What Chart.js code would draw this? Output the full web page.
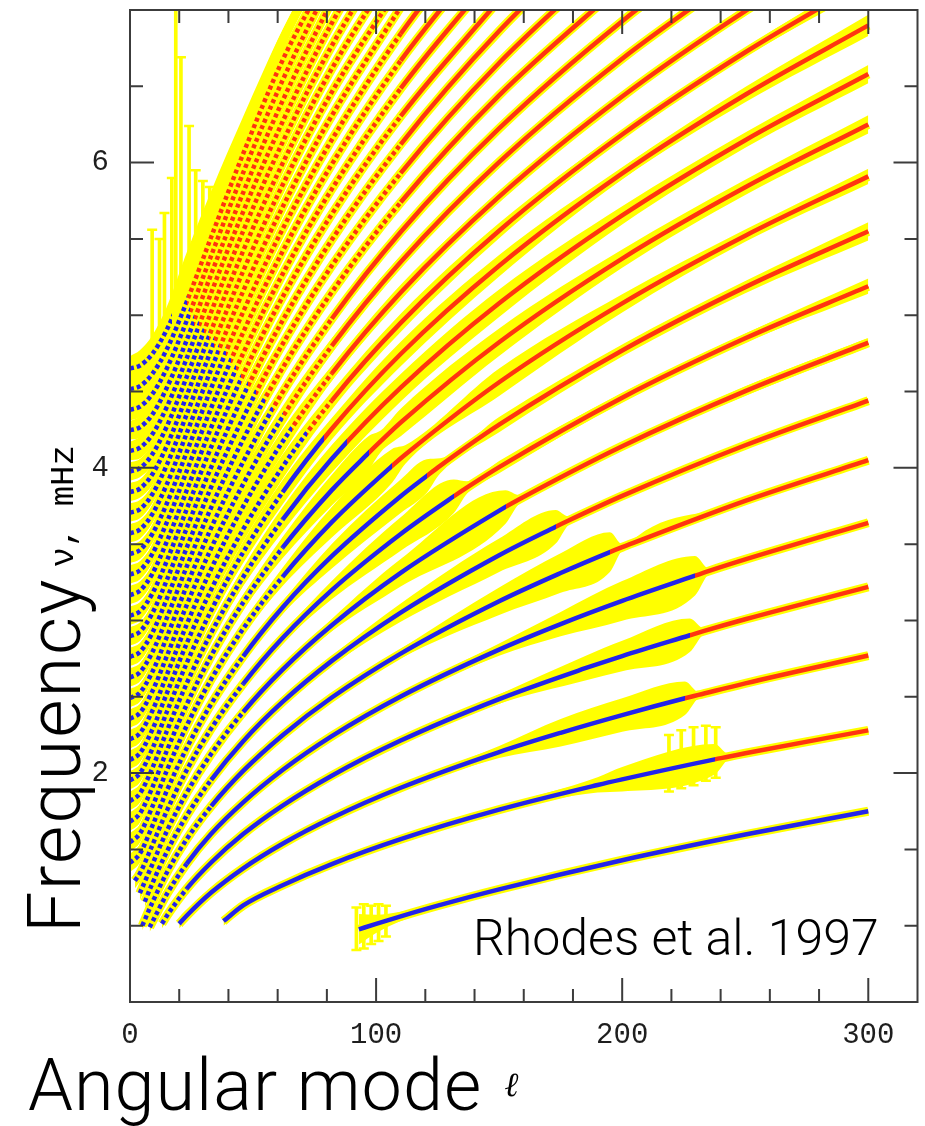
<!DOCTYPE html>
<html>
<head>
<meta charset="utf-8">
<title>l-nu diagram</title>
<script src="https://cdn.jsdelivr.net/npm/chart.js@4.4.1/dist/chart.umd.min.js"></script>
<style>
  body { margin: 0; background: #fff; }
  #wrap { position: relative; width: 925px; height: 1126px; overflow: hidden; }
  #lnu { position: absolute; left: 0; top: 0; }
  .big { font-family: Roboto, 'Liberation Sans', sans-serif; font-weight: 300; color: #000; line-height: 1; }
  #ytitle { position: absolute; left: 18px; top: 933px; transform: rotate(-90deg); transform-origin: 0 0; white-space: nowrap; font-size: 74px; letter-spacing: 2px; }
  #ytitle .unit { font-family: 'Liberation Mono', monospace; font-weight: 400; font-size: 34px; letter-spacing: 0; margin-left: 10px; vertical-align: 7px; }
  #xtitle { position: absolute; left: 28px; top: 1050px; white-space: nowrap; font-size: 72px; letter-spacing: 1px; }
  #xtitle .ell { font-family: 'DejaVu Serif', serif; font-style: italic; font-weight: 400; font-size: 34px; margin-left: 22px; vertical-align: 14px; }
  #credit { position: absolute; left: 473px; top: 913px; white-space: nowrap; font-size: 50px; }
</style>
</head>
<body>
<div id="wrap">
  <canvas id="lnu" width="925" height="1126"></canvas>
  <div id="ytitle" class="big">Frequency<span class="unit">ν, mHz</span></div>
  <div id="xtitle" class="big">Angular mode<span class="ell">ℓ</span></div>
  <div id="credit" class="big">Rhodes et al. 1997</div>
</div>
<script>
// ridges: [degree l, frequency mHz, error mHz]
const fMode = [[93,0.976,0.10],[100,1.012,0.06],[110,1.061,0.03],[125,1.131,0.02],[150,1.238,0.02],[200,1.429,0.02],[250,1.597,0.02],[300,1.750,0.02]];
const p1 = [[38,1.030,0.03],[46,1.133,0.02],[62,1.265,0.02],[82,1.404,0.02],[110,1.567,0.02],[150,1.760,0.02],[190,1.922,0.05],[200,1.959,0.08],[237.6,2.090,0.10],[243,2.107,0.02],[250,2.130,0.02],[300,2.280,0.02]];
const p2 = [[20,1.012,0.03],[23,1.065,0.03],[33,1.217,0.02],[46,1.376,0.02],[62,1.537,0.02],[82,1.706,0.02],[110,1.904,0.02],[150,2.138,0.04],[175,2.264,0.09],[200,2.380,0.11],[225.5,2.490,0.11],[231,2.512,0.02],[250,2.588,0.02],[300,2.770,0.02]];
const p3 = [[13,1.013,0.03],[15,1.065,0.03],[23,1.241,0.02],[33,1.414,0.02],[46,1.600,0.02],[62,1.787,0.02],[82,1.983,0.02],[110,2.213,0.02],[150,2.485,0.03],[185,2.687,0.08],[200,2.767,0.10],[227.5,2.903,0.11],[233,2.930,0.02],[250,3.008,0.02],[300,3.220,0.02]];
const p4 = [[8,0.990,0.03],[9,1.022,0.03],[15,1.208,0.03],[23,1.405,0.02],[33,1.602,0.02],[46,1.808,0.02],[62,2.020,0.02],[82,2.242,0.02],[110,2.502,0.02],[150,2.809,0.04],[175,2.976,0.08],[200,3.128,0.13],[229.6,3.293,0.13],[235,3.323,0.02],[250,3.400,0.02],[300,3.640,0.02]];
const p5 = [[5,1.000,0.03],[9,1.149,0.03],[15,1.349,0.03],[23,1.566,0.02],[33,1.783,0.02],[46,2.014,0.02],[62,2.248,0.02],[82,2.495,0.02],[110,2.783,0.03],[150,3.126,0.09],[175,3.311,0.13],[195,3.448,0.13],[200,3.480,0.02],[250,3.784,0.02],[300,4.050,0.02]];
const p6 = [[6,1.157,0.04],[9,1.274,0.04],[15,1.486,0.03],[23,1.720,0.02],[33,1.956,0.02],[46,2.209,0.02],[62,2.466,0.02],[82,2.735,0.03],[110,3.051,0.06],[150,3.427,0.11],[173,3.614,0.11],[178,3.653,0.03],[200,3.816,0.02],[250,4.148,0.02],[300,4.440,0.02]];
const p7 = [[4,1.213,0.05],[9,1.399,0.04],[15,1.621,0.03],[23,1.870,0.02],[33,2.126,0.02],[46,2.400,0.02],[62,2.678,0.02],[82,2.969,0.04],[110,3.312,0.09],[152.6,3.744,0.11],[158,3.793,0.03],[200,4.142,0.02],[250,4.503,0.03],[300,4.820,0.03]];
const p8 = [[2,1.295,0.05],[4,1.342,0.05],[9,1.525,0.05],[15,1.754,0.04],[23,2.018,0.03],[33,2.292,0.02],[46,2.585,0.02],[62,2.885,0.03],[82,3.199,0.06],[110,3.567,0.11],[131.6,3.814,0.11],[137,3.872,0.04],[150,4.005,0.04],[200,4.460,0.03],[250,4.849,0.03],[300,5.190,0.05]];
const p9 = [[0,1.411,0.06],[4,1.472,0.06],[9,1.651,0.05],[15,1.886,0.04],[23,2.163,0.03],[33,2.453,0.03],[46,2.765,0.03],[62,3.085,0.04],[82,3.421,0.08],[110,3.814,0.11],[120.6,3.947,0.11],[126,4.013,0.05],[150,4.283,0.05],[200,4.769,0.04],[250,5.184,0.04],[300,5.550,0.06]];
const p10 = [[0,1.546,0.06],[4,1.603,0.06],[9,1.777,0.05],[15,2.018,0.04],[23,2.309,0.04],[33,2.615,0.04],[46,2.946,0.04],[62,3.286,0.06],[82,3.644,0.10],[106.5,4.013,0.11],[112,4.089,0.06],[150,4.561,0.09],[200,5.078,0.06],[250,5.521,0.04],[300,5.910,0.05]];
const p11 = [[0,1.681,0.06],[4,1.735,0.06],[9,1.903,0.05],[15,2.148,0.05],[23,2.448,0.05],[33,2.769,0.05],[46,3.118,0.05],[62,3.477,0.07],[82,3.854,0.10],[97,4.098,0.11],[102,4.176,0.07],[110,4.297,0.09],[150,4.823,0.09],[200,5.371,0.06],[250,5.838,0.05],[300,6.250,0.06]];
const p12 = [[0,1.816,0.06],[4,1.866,0.06],[9,2.030,0.06],[15,2.276,0.05],[23,2.586,0.05],[33,2.919,0.05],[46,3.285,0.06],[62,3.661,0.08],[82,4.059,0.09],[110,4.525,0.09],[150,5.078,0.09],[200,5.654,0.06],[250,6.147,0.05],[300,6.580,0.06]];
const p13 = [[0,1.951,0.06],[4,1.998,0.06],[9,2.156,0.06],[15,2.402,0.06],[23,2.719,0.06],[33,3.066,0.06],[46,3.447,0.07],[62,3.840,0.08],[82,4.256,0.07],[110,4.746,0.08],[150,5.324,0.07],[200,5.929,0.04],[250,6.445,0.05],[300,6.899,0.07]];
const p14 = [[0,2.086,0.06],[4,2.130,0.06],[9,2.282,0.06],[15,2.524,0.06],[23,2.848,0.07],[33,3.203,0.07],[46,3.598,0.08],[62,4.007,0.08],[82,4.441,0.06],[110,4.950,0.06],[150,5.554,0.05],[200,6.184,0.03],[250,6.723,0.03],[300,7.197,0.05]];
const p15 = [[0,2.221,0.06],[4,2.261,0.06],[9,2.405,0.06],[15,2.645,0.06],[23,2.972,0.07],[33,3.338,0.07],[46,3.747,0.08],[62,4.171,0.08],[82,4.619,0.05],[110,5.149,0.05],[150,5.777,0.03],[200,6.433,0.03],[250,6.993,0.03],[300,7.485,0.03]];
const p16 = [[0,2.356,0.06],[4,2.394,0.06],[9,2.533,0.06],[15,2.768,0.06],[23,3.099,0.07],[33,3.473,0.07],[46,3.894,0.08],[62,4.334,0.07],[82,4.799,0.05],[110,5.349,0.04],[150,6.003,0.03],[200,6.681,0.03],[250,7.263,0.03]];
const p17 = [[0,2.491,0.06],[4,2.527,0.06],[9,2.660,0.06],[15,2.893,0.06],[23,3.225,0.07],[33,3.607,0.07],[46,4.041,0.08],[62,4.495,0.05],[82,4.977,0.04],[110,5.546,0.02],[150,6.224,0.02],[200,6.927,0.02],[250,7.528,0.02]];
const p18 = [[0,2.626,0.06],[4,2.660,0.06],[9,2.789,0.06],[15,3.018,0.06],[23,3.351,0.07],[33,3.741,0.07],[46,4.187,0.08],[62,4.654,0.05],[82,5.151,0.04],[110,5.740,0.02],[150,6.441,0.02],[200,7.166,0.02]];
const p19 = [[0,2.761,0.06],[4,2.793,0.06],[9,2.916,0.06],[15,3.144,0.06],[23,3.475,0.07],[33,3.875,0.07],[46,4.329,0.08],[62,4.811,0.05],[82,5.324,0.03],[110,5.931,0.02],[150,6.653,0.02],[200,7.403,0.02]];
const p20 = [[0,2.896,0.06],[4,2.926,0.06],[9,3.045,0.06],[15,3.266,0.06],[23,3.603,0.07],[33,4.005,0.07],[46,4.472,0.07],[62,4.965,0.04],[82,5.494,0.03],[110,6.120,0.02],[150,6.862,0.02],[200,7.637,0.02]];
const p21 = [[0,3.031,0.06],[4,3.060,0.06],[9,3.174,0.06],[15,3.392,0.06],[23,3.727,0.07],[33,4.137,0.08],[46,4.612,0.05],[62,5.119,0.04],[82,5.662,0.02],[110,6.304,0.02],[150,7.065,0.02]];
const p22 = [[0,3.166,0.06],[4,3.195,0.06],[9,3.304,0.06],[15,3.519,0.06],[23,3.850,0.07],[33,4.265,0.08],[46,4.751,0.05],[62,5.269,0.03],[82,5.826,0.02],[110,6.486,0.02],[150,7.268,0.02]];
const p23 = [[0,3.301,0.06],[4,3.328,0.06],[9,3.434,0.06],[15,3.644,0.07],[23,3.977,0.07],[33,4.393,0.08],[46,4.888,0.04],[62,5.418,0.03],[82,5.989,0.02],[110,6.668,0.02],[150,7.468,0.02]];
const p24 = [[0,3.436,0.06],[4,3.461,0.06],[9,3.565,0.06],[15,3.768,0.07],[23,4.101,0.07],[33,4.522,0.08],[46,5.023,0.04],[62,5.564,0.02],[82,6.149,0.02],[110,6.844,0.02],[150,7.665,0.02]];
const p25 = [[0,3.571,0.06],[4,3.596,0.06],[9,3.695,0.06],[15,3.894,0.07],[23,4.225,0.07],[33,4.647,0.07],[46,5.158,0.03],[62,5.709,0.02],[82,6.307,0.02],[110,7.019,0.02]];
const p26 = [[0,3.706,0.06],[4,3.729,0.06],[9,3.825,0.06],[15,4.021,0.07],[23,4.349,0.07],[33,4.773,0.06],[46,5.290,0.03],[62,5.853,0.02],[82,6.462,0.02],[110,7.167,0.02]];
const p27 = [[0,3.841,0.06],[4,3.864,0.06],[9,3.956,0.07],[15,4.146,0.07],[23,4.471,0.08],[33,4.899,0.05],[46,5.422,0.03],[62,5.995,0.02],[82,6.615,0.02],[110,7.334,0.02]];
const p28 = [[0,3.976,0.06],[4,3.998,0.06],[9,4.087,0.07],[15,4.273,0.07],[23,4.594,0.08],[33,5.022,0.04],[46,5.552,0.02],[62,6.133,0.02],[82,6.766,0.02],[110,7.497,0.02]];
const p29 = [[0,4.111,0.06],[4,4.132,0.07],[9,4.218,0.07],[15,4.400,0.08],[23,4.716,0.08],[33,5.147,0.04],[46,5.679,0.02],[62,6.268,0.02],[82,6.914,0.02],[110,7.657,0.02]];
const p30 = [[0,4.246,0.06],[4,4.266,0.07],[9,4.348,0.08],[15,4.526,0.08],[23,4.835,0.08],[33,5.270,0.04],[46,5.804,0.02],[62,6.405,0.02],[82,7.060,0.02]];
const p31 = [[0,4.381,0.07],[4,4.401,0.07],[9,4.482,0.08],[15,4.653,0.09],[23,4.962,0.08],[33,5.391,0.04],[46,5.934,0.02],[62,6.539,0.02],[82,7.204,0.02]];
const p32 = [[0,4.516,0.07],[4,4.535,0.08],[9,4.614,0.10],[15,4.778,0.12],[23,5.086,0.14],[33,5.513,0.10],[46,6.059,0.06],[62,6.671,0.04],[82,7.279,0.03]];
const p33 = [[0,4.651,0.08],[4,4.670,0.10],[9,4.745,0.12],[15,4.907,0.15],[23,5.209,0.20],[33,5.634,0.18],[46,6.182,0.12],[62,6.800,0.07],[82,7.412,0.05]];

const ridges = [fMode, p1, p2, p3, p4, p5, p6, p7, p8, p9, p10, p11, p12, p13, p14, p15, p16,
  p17, p18, p19, p20, p21, p22, p23, p24, p25, p26, p27, p28, p29, p30, p31, p32, p33];

// degree where each ridge switches from blue to red points (null = all blue)
const redFromL = [null, 237.6, 225.5, 227.5, 229.6, 195, 173, 152.6, 131.6, 120.6, 106.5, 97, 88, 79, 72,
  66, 62, 58, 55, 51, 48, 45, 43, 41, 39, 36, 34, 32, 30, 28, 26, 24.5, 23, 17];
// ridges whose points above redFromL are lost under the error bars
const buriedRidges = [33];

// isolated long error bars
const barL  = [9, 12, 14, 17, 18.6, 20.7, 24, 26.7, 29.6, 32.4, 37.3, 92, 95, 98, 101, 104, 219, 224, 229, 234, 238];
const barLo = [4.75, 4.80, 4.90, 4.95, 4.95, 5.00, 5.10, 5.20, 5.30, 5.40, 5.60, 0.84, 0.85, 0.88, 0.90, 0.93, 1.88, 1.90, 1.92, 1.95, 1.97];
const barHi = [5.56, 5.50, 5.67, 5.90, 7.20, 6.69, 6.24, 5.95, 5.88, 5.84, 5.80, 1.12, 1.14, 1.13, 1.14, 1.13, 2.25, 2.28, 2.30, 2.31, 2.30];

const BLUE = '#2424ea';
const RED = '#ff3410';
const YELLOW = '#ffff00';
const CLEAR = 'rgba(0,0,0,0)';

function splitColour(chart, lRed, tail) {
  const area = chart.chartArea;
  if (lRed == null || !area) return BLUE;
  const t = (chart.scales.x.getPixelForValue(lRed) - area.left) / (area.right - area.left);
  const s = Math.min(Math.max(t, 0), 1);
  const g = chart.ctx.createLinearGradient(area.left, 0, area.right, 0);
  g.addColorStop(0, BLUE);
  g.addColorStop(s, BLUE);
  g.addColorStop(s, tail);
  g.addColorStop(1, tail);
  return g;
}

// steep bits of a ridge show up as separate dots
function dotted(ctx) {
  const dx = ctx.p1.x - ctx.p0.x;
  const dy = Math.abs(ctx.p1.y - ctx.p0.y);
  return (ctx.p1.parsed.x <= 15 || dy > 1.3 * dx) ? [4, 3] : undefined;
}

const lineBase = { pointRadius: 0, cubicInterpolationMode: 'monotone', clip: 1 };
const datasets = [];

ridges.forEach((pts, i) => {
  const centre = pts.map(([l, nu]) => ({ x: l, y: nu }));
  // error band: upper edge, then lower edge filled up to it
  datasets.push({ ...lineBase, data: pts.map(([l, nu, e]) => ({ x: l, y: nu + e })),
    borderWidth: 0, borderColor: CLEAR, fill: false, order: 4 });
  datasets.push({ ...lineBase, data: pts.map(([l, nu, e]) => ({ x: l, y: nu - e })),
    borderWidth: 0, borderColor: CLEAR, backgroundColor: YELLOW, fill: '-1', order: 4 });
  // yellow halo under every point
  datasets.push({ ...lineBase, data: centre, borderColor: YELLOW, borderWidth: 9, fill: false, order: 2 });
  const tail = buriedRidges.includes(i) ? CLEAR : RED;
  datasets.push({ ...lineBase, data: centre, fill: false, order: 1, borderWidth: 4.5,
    borderColor: c => splitColour(c.chart, redFromL[i], tail),
    segment: { borderDash: dotted } });
});

datasets.push({
  type: 'bar', order: 3, grouped: false, barThickness: 3, backgroundColor: YELLOW, borderWidth: 0, clip: 1,
  data: barL.map((l, k) => ({ x: l, y: [barLo[k], barHi[k]] }))
});
datasets.push({
  type: 'line', order: 3, showLine: false, pointStyle: 'line', pointRadius: 5, clip: 1,
  pointBorderColor: YELLOW, pointBorderWidth: 2.5,
  data: barL.flatMap((l, k) => [{ x: l, y: barLo[k] }, { x: l, y: barHi[k] }])
});

// tick marks point into the plot, on all four sides
const innerTicks = {
  id: 'innerTicks',
  afterDraw(chart) {
    const { ctx, chartArea: a, scales: { x, y } } = chart;
    ctx.save();
    ctx.strokeStyle = '#3c3c3c';
    ctx.lineWidth = 2;
    ctx.beginPath();
    x.ticks.forEach(t => {
      if (t.value <= x.min || t.value >= x.max) return;
      const px = x.getPixelForValue(t.value);
      const len = t.value % 100 === 0 ? 24 : 13;
      ctx.moveTo(px, a.bottom); ctx.lineTo(px, a.bottom - len);
      ctx.moveTo(px, a.top); ctx.lineTo(px, a.top + len);
    });
    y.ticks.forEach(t => {
      if (t.value <= y.min || t.value >= y.max) return;
      const py = y.getPixelForValue(t.value);
      const len = (Number.isInteger(t.value) && t.value % 2 === 0) ? 24 : 13;
      ctx.moveTo(a.left, py); ctx.lineTo(a.left + len, py);
      ctx.moveTo(a.right, py); ctx.lineTo(a.right - len, py);
    });
    ctx.stroke();
    ctx.strokeRect(a.left, a.top, a.right - a.left, a.bottom - a.top);
    ctx.restore();
  }
};

const tickFont = { family: "'Liberation Mono', 'DejaVu Sans Mono', monospace", size: 29 };

new Chart(document.getElementById('lnu'), {
  type: 'line',
  data: { datasets },
  options: {
    responsive: false,
    animation: false,
    events: [],
    layout: { padding: { top: 10, right: 5, left: 0, bottom: 0 } },
    plugins: { legend: { display: false }, tooltip: { enabled: false } },
    scales: {
      x: {
        type: 'linear', min: 0, max: 320, offset: false,
        grid: { display: false, drawTicks: false, offset: false },
        border: { display: false },
        ticks: {
          stepSize: 20, maxTicksLimit: 100, autoSkip: false, maxRotation: 0,
          padding: 16, color: '#1e1e1e', font: tickFont,
          callback: v => (v % 100 === 0 ? String(v) : '')
        },
        afterFit: s => { s.height = 124; s.paddingLeft = 0; s.paddingRight = 0; }
      },
      y: {
        type: 'linear', min: 0.5, max: 7,
        grid: { display: false, drawTicks: false },
        border: { display: false },
        ticks: {
          stepSize: 0.5, maxTicksLimit: 100, autoSkip: false,
          padding: 21, color: '#1e1e1e', font: tickFont,
          callback: v => ((Number.isInteger(v) && v % 2 === 0) ? String(v) : '')
        },
        afterFit: s => { s.width = 130; s.paddingTop = 0; s.paddingBottom = 0; }
      }
    }
  },
  plugins: [innerTicks]
});
</script>
</body>
</html>
